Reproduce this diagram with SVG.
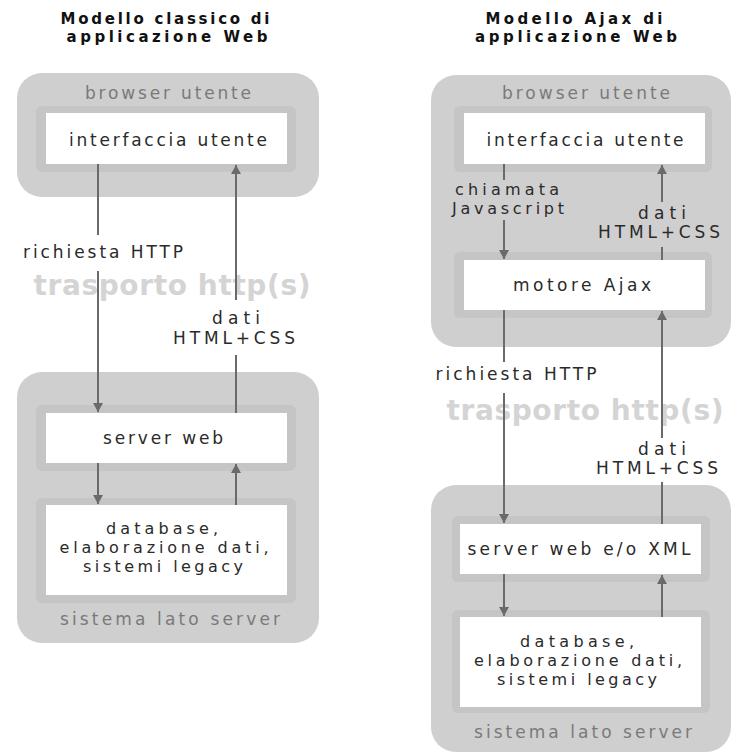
<svg xmlns="http://www.w3.org/2000/svg" width="734" height="753" viewBox="0 0 734 753">
<defs>
<style>
.outer{fill:#cfcfcf}
.halo{fill:#c5c5c5}
.box{fill:#ffffff}
.t{font-family:"DejaVu Sans","Liberation Sans",sans-serif;font-size:17px;fill:#2a2a2a;text-anchor:middle}
.s{font-family:"DejaVu Sans","Liberation Sans",sans-serif;font-size:16px;fill:#2a2a2a;text-anchor:middle}
.g{font-family:"DejaVu Sans","Liberation Sans",sans-serif;font-size:17px;fill:#7a7a7a;text-anchor:middle}
.h{font-family:"DejaVu Sans","Liberation Sans",sans-serif;font-size:15px;font-weight:bold;fill:#111;text-anchor:middle}
.tr{font-family:"DejaVu Sans","Liberation Sans",sans-serif;font-size:28px;font-weight:bold;fill:#d4d4d4;text-anchor:middle}
.c{stroke:#6a6a6a;stroke-width:2;fill:none}
.ca{stroke:#6a6a6a;stroke-width:2;fill:none;marker-end:url(#ah)}
</style>
<marker id="ah" markerUnits="userSpaceOnUse" markerWidth="12" markerHeight="10" refX="9" refY="5" orient="auto">
<path d="M0,0 L9,5 L0,10 z" fill="#6a6a6a"/>
</marker>
</defs>
<rect width="734" height="753" fill="#ffffff"/>

<g id="title-classic">
<text class="h" x="165" y="24" textLength="209" lengthAdjust="spacing">Modello classico di</text>
<text class="h" x="167" y="42" textLength="201" lengthAdjust="spacing">applicazione Web</text>
</g>
<g id="title-ajax">
<text class="h" x="574" y="24" textLength="177" lengthAdjust="spacing">Modello Ajax di</text>
<text class="h" x="576" y="42" textLength="202" lengthAdjust="spacing">applicazione Web</text>
</g>

<!-- Left column -->
<g id="browser-classic">
<rect class="outer" x="17" y="73" width="302" height="124" rx="25"/>
<text class="g" x="168" y="99" textLength="166" lengthAdjust="spacing">browser utente</text>
</g>
<g id="ui-classic">
<rect class="halo" x="36" y="106" width="260" height="66" rx="6"/>
<rect class="box" x="46" y="113" width="241" height="51"/>
<text class="t" x="168" y="146" textLength="198" lengthAdjust="spacing">interfaccia utente</text>
</g>
<g id="server-classic">
<rect class="outer" x="17" y="372" width="302" height="271" rx="25"/>
<text class="g" x="170" y="625" textLength="220" lengthAdjust="spacing">sistema lato server</text>
</g>
<g id="webserver-classic">
<rect class="halo" x="36" y="405" width="260" height="66" rx="6"/>
<rect class="box" x="46" y="413" width="241" height="50"/>
<text class="t" x="163" y="444" textLength="120" lengthAdjust="spacing">server web</text>
</g>
<g id="db-classic">
<rect class="halo" x="36" y="498" width="260" height="105" rx="6"/>
<rect class="box" x="46" y="505" width="241" height="90"/>
<text class="s" x="162" y="534" textLength="112" lengthAdjust="spacing">database,</text>
<text class="s" x="164" y="553" textLength="209" lengthAdjust="spacing">elaborazione dati,</text>
<text class="s" x="163" y="572" textLength="160" lengthAdjust="spacing">sistemi legacy</text>
</g>

<!-- Right column -->
<g id="browser-ajax">
<rect class="outer" x="431" y="75" width="300" height="272" rx="25"/>
<text class="g" x="586" y="99" textLength="168" lengthAdjust="spacing">browser utente</text>
</g>
<g id="ui-ajax">
<rect class="halo" x="454" y="106" width="258" height="66" rx="6"/>
<rect class="box" x="464" y="113" width="241" height="51"/>
<text class="t" x="585" y="146" textLength="197" lengthAdjust="spacing">interfaccia utente</text>
</g>
<g id="engine-ajax">
<rect class="halo" x="454" y="252" width="258" height="66" rx="6"/>
<rect class="box" x="464" y="260" width="241" height="50"/>
<text class="t" x="582" y="291" textLength="138" lengthAdjust="spacing">motore Ajax</text>
</g>
<g id="server-ajax">
<rect class="outer" x="431" y="485" width="300" height="267" rx="25"/>
<text class="g" x="583" y="738" textLength="218" lengthAdjust="spacing">sistema lato server</text>
</g>
<g id="webserver-ajax">
<rect class="halo" x="452" y="516" width="258" height="66" rx="6"/>
<rect class="box" x="460" y="524" width="241" height="50"/>
<text class="t" x="579" y="555" textLength="223" lengthAdjust="spacing">server web e/o XML</text>
</g>
<g id="db-ajax">
<rect class="halo" x="452" y="610" width="258" height="103" rx="6"/>
<rect class="box" x="460" y="617" width="241" height="90"/>
<text class="s" x="577" y="647" textLength="114" lengthAdjust="spacing">database,</text>
<text class="s" x="578" y="666" textLength="208" lengthAdjust="spacing">elaborazione dati,</text>
<text class="s" x="577" y="685" textLength="160" lengthAdjust="spacing">sistemi legacy</text>
</g>

<g id="transport-labels">
<text class="tr" x="172" y="295" textLength="277" lengthAdjust="spacing">trasporto http(s)</text>
<text class="tr" x="585" y="420" textLength="277" lengthAdjust="spacing">trasporto http(s)</text>
</g>

<g id="connectors">
<path class="c" d="M98,164 V235"/>
<path class="ca" d="M98,271 V412"/>
<path class="c" d="M236,413 V355"/>
<path class="ca" d="M236,300 V165"/>
<path class="ca" d="M98,463 V504"/>
<path class="ca" d="M236,505 V464"/>
<path class="c" d="M504,164 V180"/>
<path class="ca" d="M504,220 V259"/>
<path class="c" d="M662,260 V247"/>
<path class="ca" d="M662,202 V165"/>
<path class="c" d="M504,310 V362"/>
<path class="ca" d="M504,393 V523"/>
<path class="c" d="M662,524 V482"/>
<path class="ca" d="M662,438 V311"/>
<path class="ca" d="M504,574 V616"/>
<path class="ca" d="M662,617 V575"/>
</g>

<g id="connector-labels">
<text class="t" x="103" y="258" textLength="160" lengthAdjust="spacing">richiesta HTTP</text>
<text class="t" x="236" y="324" textLength="48" lengthAdjust="spacing">dati</text>
<text class="t" x="234" y="344" textLength="122" lengthAdjust="spacing">HTML+CSS</text>
<text class="s" x="507" y="195" textLength="104" lengthAdjust="spacing">chiamata</text>
<text class="s" x="508" y="214" textLength="112" lengthAdjust="spacing">Javascript</text>
<text class="t" x="662" y="219" textLength="48" lengthAdjust="spacing">dati</text>
<text class="t" x="659" y="238" textLength="122" lengthAdjust="spacing">HTML+CSS</text>
<text class="t" x="516" y="380" textLength="161" lengthAdjust="spacing">richiesta HTTP</text>
<text class="t" x="662" y="455" textLength="48" lengthAdjust="spacing">dati</text>
<text class="t" x="657" y="474" textLength="122" lengthAdjust="spacing">HTML+CSS</text>
</g>
</svg>
